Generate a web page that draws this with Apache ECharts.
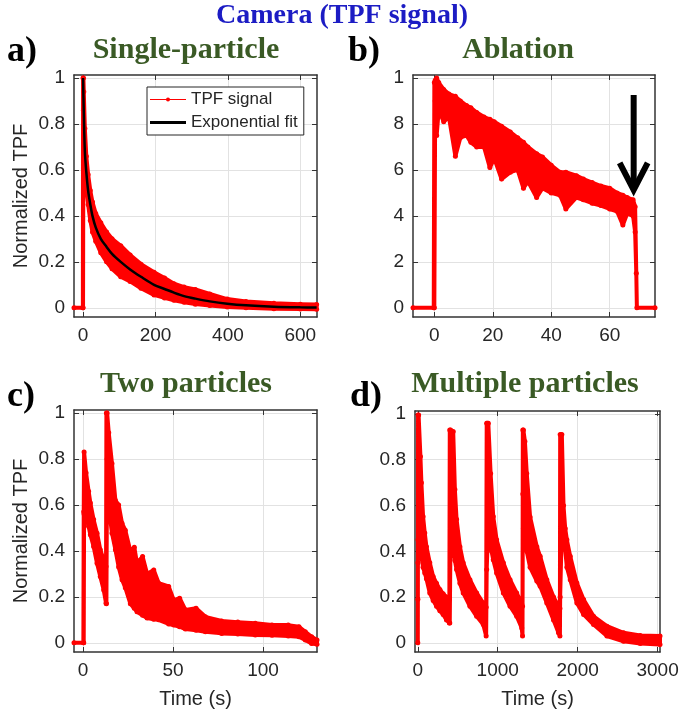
<!DOCTYPE html>
<html><head><meta charset="utf-8">
<script src="https://cdn.jsdelivr.net/npm/echarts@6/dist/echarts.min.js"></script>
<style>html,body{margin:0;padding:0;background:#fff}#c{width:685px;height:719px}</style>
</head><body><div id="c"></div>
<script>
// ---------- Panel a) Single-particle ----------
const tA  = [-25, -0.5, 0, 1, 2, 5, 9, 14, 20, 26, 35, 49, 65, 80, 104, 130, 160, 196, 225, 251, 279, 310, 350, 398, 450, 527, 600, 645];
const hiA = [0, 0, 1.0, 1.0, 0.94, 0.78, 0.66, 0.58, 0.51, 0.46, 0.41, 0.37, 0.33, 0.30, 0.27, 0.23, 0.19, 0.155, 0.13, 0.105, 0.09, 0.08, 0.06, 0.038, 0.027, 0.02, 0.016, 0.014];
const loA = [0, 0, 0, 0.86, 0.74, 0.60, 0.52, 0.45, 0.38, 0.33, 0.29, 0.24, 0.20, 0.17, 0.135, 0.115, 0.085, 0.056, 0.043, 0.033, 0.024, 0.016, 0.01, 0.004, 0.0, -0.004, -0.005, -0.006];
const fitTA = [0, 2, 5, 9, 14, 20, 26, 35, 49, 65, 80, 104, 130, 160, 196, 225, 251, 279, 310, 350, 398, 450, 527, 600, 645];
const fitVA = [1.0, 0.85, 0.68, 0.59, 0.51, 0.45, 0.40, 0.35, 0.30, 0.265, 0.235, 0.20, 0.167, 0.135, 0.10, 0.082, 0.066, 0.051, 0.040, 0.028, 0.018, 0.011, 0.005, 0.002, 0.001];
const xTicksA = [0, 200, 400, 600];

// ---------- Panel b) Ablation ----------
const tB  = [-7.3, -0.2, 0, 0.3, 0.8, 1.5, 3.2, 5, 7.2, 8.9, 11, 12.5, 14.5, 17, 19, 20.5, 23, 26, 28.5, 30.5, 32, 35, 37, 40, 43, 45, 48.6, 51, 54, 57, 60, 62.5, 64.5, 66, 68, 68.7, 69.1, 69.3, 75.5];
const hiB = [0, 0, 0.98, 0.99, 1.0, 0.98, 0.95, 0.93, 0.92, 0.9, 0.88, 0.87, 0.85, 0.83, 0.82, 0.81, 0.79, 0.765, 0.74, 0.72, 0.70, 0.67, 0.656, 0.62, 0.59, 0.59, 0.575, 0.56, 0.545, 0.53, 0.52, 0.50, 0.49, 0.48, 0.47, 0.44, 0.15, 0, 0];
const loB = [0, 0, 0, 0.9, 0.75, 0.86, 0.81, 0.83, 0.66, 0.74, 0.75, 0.72, 0.70, 0.70, 0.61, 0.65, 0.56, 0.59, 0.6, 0.52, 0.55, 0.48, 0.52, 0.5, 0.49, 0.43, 0.48, 0.47, 0.455, 0.445, 0.43, 0.42, 0.36, 0.41, 0.40, 0.33, 0.15, 0, 0];
const xTicksB = [0, 20, 40, 60];
const arrowB = [68.2, 0.926, 0.513]; // time, top of arrow, arrow tip

// ---------- Panel c) Two particles ----------
const tC  = [-5, 0.2, 0.4, 0.6, 1.7, 3.1, 4.1, 5.9, 7.8, 9.6, 11.5, 12.8, 13.0, 13.4, 14.3, 16.1, 18, 19.8, 21.7, 23.5, 26.3, 28.5, 30, 33.1, 35.6, 39.3, 42, 47.6, 50.4, 53.7, 56.9, 62.8, 68, 77, 86, 95.7, 105, 114, 120, 123.5, 127, 130];
const hiC = [0, 0, 0.57, 0.83, 0.74, 0.66, 0.608, 0.536, 0.477, 0.405, 0.361, 0.332, 1.0, 1.0, 0.914, 0.78, 0.62, 0.6, 0.52, 0.49, 0.40, 0.416, 0.346, 0.375, 0.30, 0.317, 0.26, 0.245, 0.186, 0.194, 0.143, 0.15, 0.113, 0.095, 0.09, 0.085, 0.078, 0.077, 0.07, 0.048, 0.026, 0.012];
const loC = [0, 0, 0, 0.56, 0.55, 0.507, 0.47, 0.419, 0.346, 0.288, 0.23, 0.172, 0.17, 0.8, 0.59, 0.477, 0.405, 0.33, 0.274, 0.24, 0.17, 0.15, 0.135, 0.12, 0.108, 0.102, 0.1, 0.082, 0.077, 0.07, 0.06, 0.055, 0.048, 0.041, 0.038, 0.034, 0.033, 0.03, 0.026, 0.012, -0.003, -0.006];
const xTicksC = [0, 50, 100];

// ---------- Panel d) Multiple particles ----------
const tD  = [0, 1, 1.5, 3, 10, 33, 45, 66, 87, 108, 150, 192, 234, 276, 317, 359, 395, 400, 410, 443, 464, 485, 527, 568, 652, 736, 819, 855, 862, 870, 882, 911, 944, 986, 1070, 1154, 1237, 1300, 1310, 1314, 1321, 1340, 1363, 1405, 1489, 1531, 1614, 1698, 1760, 1778, 1781, 1802, 1823, 1844, 1865, 1907, 1990, 2074, 2199, 2366, 2574, 2783, 3030];
const hiD = [0, 0.19, 0.35, 0.996, 0.996, 0.814, 0.7, 0.552, 0.48, 0.42, 0.35, 0.29, 0.26, 0.233, 0.215, 0.2, 0.19, 0.93, 0.93, 0.923, 0.67, 0.54, 0.42, 0.35, 0.276, 0.218, 0.174, 0.155, 0.96, 0.96, 0.96, 0.74, 0.552, 0.45, 0.35, 0.276, 0.218, 0.17, 0.16, 0.93, 0.93, 0.88, 0.74, 0.55, 0.42, 0.378, 0.276, 0.2, 0.16, 0.15, 0.91, 0.91, 0.6, 0.5, 0.45, 0.378, 0.262, 0.189, 0.116, 0.073, 0.044, 0.032, 0.03];
const loD = [0, 0.19, 0.35, 0.45, 0.45, 0.42, 0.378, 0.33, 0.305, 0.28, 0.218, 0.185, 0.16, 0.14, 0.124, 0.1, 0.087, 0.087, 0.48, 0.407, 0.36, 0.32, 0.26, 0.218, 0.16, 0.116, 0.08, 0.03, 0.32, 0.4, 0.42, 0.42, 0.363, 0.305, 0.218, 0.16, 0.116, 0.065, 0.03, 0.65, 0.5, 0.44, 0.4, 0.33, 0.27, 0.247, 0.174, 0.1, 0.044, 0.03, 0.2, 0.5, 0.42, 0.407, 0.33, 0.276, 0.174, 0.124, 0.08, 0.03, 0.007, -0.003, -0.007];
const xTicksD = [0, 1000, 2000, 3000];

// ---------- Y ticks and labels ----------
const yTicks   = [0, 0.2, 0.4, 0.6, 0.8, 1];
const yLabels  = ['0', '0.2', '0.4', '0.6', '0.8', '1'];
const yLabelsB = ['0', '2', '4', '6', '8', '1'];

// ================= chart =================
const RED = '#ff0000';
const AX = '#333333';
const TXT = '#262626';
const SANS = 'Liberation Sans';

const grids = [
  {left: 74, top: 75, width: 243, height: 242},
  {left: 413, top: 75, width: 242, height: 242},
  {left: 74, top: 410, width: 243, height: 242},
  {left: 415, top: 411, width: 245, height: 241}
];
const xRanges = [[-25, 646], [-7.3, 75.5], [-5, 130], [-35, 3030]];
const xTickSets = [xTicksA, xTicksB, xTicksC, xTicksD];
const yLabelSets = [yLabels, yLabelsB, yLabels, yLabels];

const xAxes = [], yAxes = [];
grids.forEach((g, i) => {
  const xr = xRanges[i];
  const ticks = xTickSets[i];
  const yl = yLabelSets[i];
  const line = {show: true, onZero: false, lineStyle: {color: AX, width: 1.5}};
  const splitL = {show: true, lineStyle: {color: '#e2e2e2', width: 1}};
  xAxes.push({
    gridIndex: i, type: 'value', position: 'bottom', min: xr[0], max: xr[1],
    axisLine: line,
    axisTick: {show: true, inside: true, length: 5, lineStyle: {color: AX}, customValues: ticks},
    axisLabel: {margin: 9, fontSize: 19, color: TXT, fontFamily: SANS, customValues: ticks,
      formatter: v => String(Math.round(v))},
    splitLine: splitL,
    name: (i >= 2) ? 'Time (s)' : '',
    nameLocation: 'middle', nameGap: 37,
    nameTextStyle: {fontSize: 20, color: TXT, fontFamily: SANS}
  });
  xAxes.push({
    gridIndex: i, type: 'value', position: 'top', min: xr[0], max: xr[1],
    axisLine: line,
    axisTick: {show: true, inside: true, length: 5, lineStyle: {color: AX}, customValues: ticks},
    axisLabel: {show: false}, splitLine: {show: false}
  });
  yAxes.push({
    gridIndex: i, type: 'value', position: 'left', min: -0.04, max: 1.013,
    axisLine: line,
    axisTick: {show: true, inside: true, length: 5, lineStyle: {color: AX}, customValues: yTicks},
    axisLabel: {margin: 9, fontSize: 19, color: TXT, fontFamily: SANS, customValues: yTicks,
      formatter: v => {
        const k = yTicks.findIndex(y => Math.abs(y - v) < 1e-6);
        return k >= 0 ? yl[k] : '';
      }},
    splitLine: splitL,
    name: (i === 0 || i === 2) ? 'Normalized TPF' : '',
    nameLocation: 'middle', nameGap: 43,
    nameTextStyle: {fontSize: 20, color: TXT, fontFamily: SANS}
  });
  yAxes.push({
    gridIndex: i, type: 'value', position: 'right', min: -0.04, max: 1.013,
    axisLine: line,
    axisTick: {show: true, inside: true, length: 5, lineStyle: {color: AX}, customValues: yTicks},
    axisLabel: {show: false}, splitLine: {show: false}
  });
});

// outline of the noisy trace: runs along the upper and lower envelope
function zig(t, hi, lo) {
  const out = [];
  t.forEach((x, k) => {
    if (k % 2 === 0) { out.push([x, hi[k]]); if (lo[k] !== hi[k]) out.push([x, lo[k]]); }
    else { if (lo[k] !== hi[k]) out.push([x, lo[k]]); out.push([x, hi[k]]); }
  });
  return out;
}

const panels = [[tA, hiA, loA], [tB, hiB, loB], [tC, hiC, loC], [tD, hiD, loD]];
const series = [];
panels.forEach((p, i) => {
  const [t, hi, lo] = p;
  // filled band between envelopes (dense noisy trace with its markers)
  series.push({
    type: 'custom', xAxisIndex: 2 * i, yAxisIndex: 2 * i, silent: true, z: 2,
    data: [[t[0], lo[0]]], encode: {x: 0, y: 1},
    renderItem: (params, api) => {
      const pts = [];
      for (let k = 0; k < t.length; k++) pts.push(api.coord([t[k], hi[k]]));
      for (let k = t.length - 1; k >= 0; k--) pts.push(api.coord([t[k], lo[k]]));
      return {type: 'polygon', shape: {points: pts},
        style: {fill: RED, stroke: RED, lineWidth: 4, lineJoin: 'round'}};
    }
  });
  series.push({
    name: i === 0 ? 'TPF signal' : 'signal' + i,
    type: 'line', xAxisIndex: 2 * i, yAxisIndex: 2 * i,
    data: zig(t, hi, lo), symbol: 'circle', symbolSize: 5, showAllSymbol: true,
    itemStyle: {color: RED}, lineStyle: {color: RED, width: 2}, z: 3
  });
});
series.push({
  name: 'Exponential fit', type: 'line', xAxisIndex: 0, yAxisIndex: 0,
  data: fitTA.map((x, k) => [x, fitVA[k]]), symbol: 'none', smooth: 0.3,
  lineStyle: {color: '#000', width: 2.5}, itemStyle: {color: '#000'}, z: 4
});
series.push({
  type: 'custom', xAxisIndex: 2, yAxisIndex: 2, z: 5, silent: true,
  data: [arrowB],
  encode: {x: 0, y: [1, 2]},
  renderItem: (params, api) => {
    const top = api.coord([api.value(0), api.value(1)]);
    const tip = api.coord([api.value(0), api.value(2)]);
    const w = 14, h = 27;
    return {type: 'group', children: [
      {type: 'line', shape: {x1: top[0], y1: top[1], x2: tip[0], y2: tip[1] - 4}, style: {stroke: '#000', lineWidth: 6}},
      {type: 'polyline', shape: {points: [[tip[0] - w, tip[1] - h], [tip[0], tip[1]], [tip[0] + w, tip[1] - h]]},
        style: {stroke: '#000', lineWidth: 6, fill: null, lineJoin: 'miter'}}
    ]};
  }
});

function label(text, x, y, font, color) {
  return {type: 'text', x: x, y: y, z: 10,
    style: {text: text, font: font, fill: color, align: 'center', verticalAlign: 'middle'}};
}
const GREEN = '#3a5a25';
const graphics = [
  label('Camera (TPF signal)', 342, 16, 'bold 28px "Liberation Serif"', '#1c1cc4'),
  label('a)', 22, 52, 'bold 36px "Liberation Serif"', '#000'),
  label('Single-particle', 186, 50, 'bold 30px "Liberation Serif"', GREEN),
  label('b)', 364, 52, 'bold 36px "Liberation Serif"', '#000'),
  label('Ablation', 518, 50, 'bold 30px "Liberation Serif"', GREEN),
  label('c)', 21, 397, 'bold 36px "Liberation Serif"', '#000'),
  label('Two particles', 186, 384, 'bold 30px "Liberation Serif"', GREEN),
  label('d)', 366, 397, 'bold 36px "Liberation Serif"', '#000'),
  label('Multiple particles', 525, 384, 'bold 30px "Liberation Serif"', GREEN)
];

const chart = echarts.init(document.getElementById('c'), null, {renderer: 'canvas'});
chart.setOption({
  animation: false,
  backgroundColor: '#fff',
  grid: grids,
  xAxis: xAxes,
  yAxis: yAxes,
  legend: {
    data: [
      {name: 'TPF signal', icon: 'path://M0,5.4 L36,5.4 L36,6.6 L0,6.6 Z M20,6 A2,2 0 1 1 16,6 A2,2 0 1 1 20,6 Z'},
      {name: 'Exponential fit', icon: 'path://M0,4.5 L36,4.5 L36,7.5 L0,7.5 Z'}
    ],
    orient: 'vertical', left: 147, top: 87,
    backgroundColor: '#fff', borderColor: '#262626', borderWidth: 1,
    padding: [4, 6, 4, 3], itemGap: 6, itemWidth: 36, itemHeight: 12, symbolKeepAspect: true,
    textStyle: {fontSize: 17, color: TXT, fontFamily: SANS},
    selectedMode: false, z: 20
  },
  series: series,
  graphic: graphics
});
</script>
</body></html>
